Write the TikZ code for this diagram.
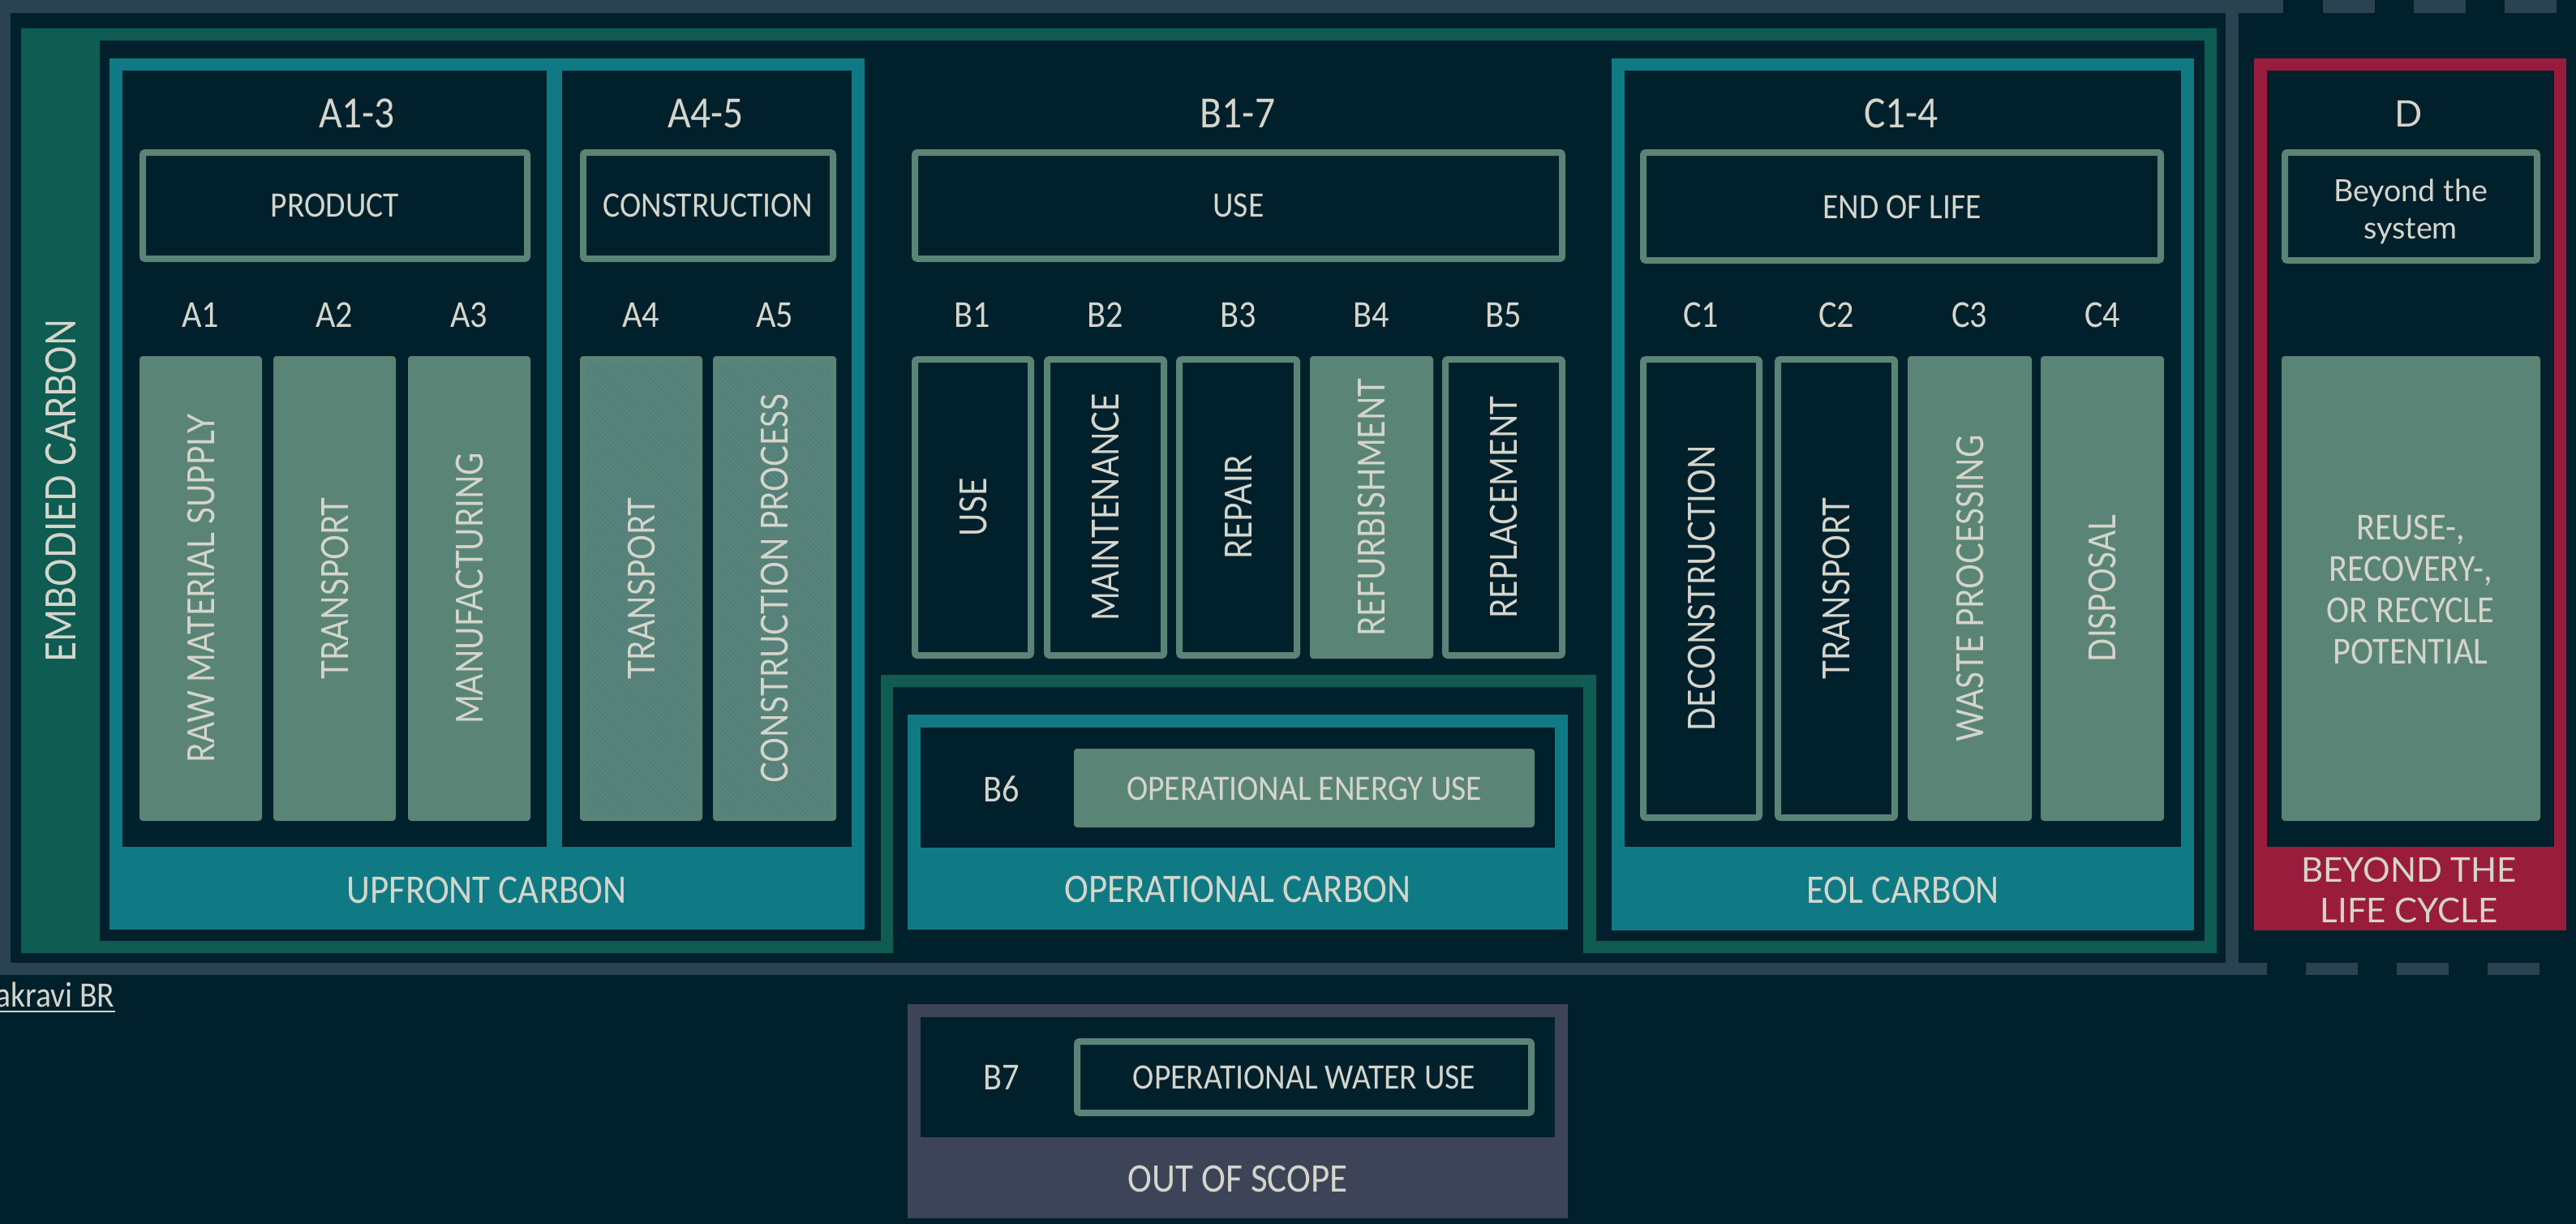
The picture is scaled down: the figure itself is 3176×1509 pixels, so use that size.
\documentclass[tikz,border=0pt]{standalone}
\usepackage{fontspec}
\setmainfont{Carlito}
\newfontfamily\condfont{Carlito}[FakeStretch=0.9]
\newfontfamily\widefont{Lato}
\newfontfamily\vertfont{Lato}[FakeStretch=0.84]
\usetikzlibrary{patterns.meta}

\definecolor{bg}{HTML}{00202C}
\definecolor{framegray}{HTML}{2B4350}
\definecolor{embgreen}{HTML}{0E5C52}
\definecolor{tealc}{HTML}{0F7A84}
\definecolor{sage}{HTML}{5A8576}
\definecolor{wine}{HTML}{9A1C3D}
\definecolor{slate}{HTML}{3D4457}
\definecolor{txt}{HTML}{D5D5CB}
\definecolor{hatchc}{HTML}{4E7C82}

\begin{document}
\begin{tikzpicture}[x=1pt,y=-1pt,
  base/.style={text=txt, inner sep=0pt, text depth=0pt},
  title/.style={base, font=\condfont\fontsize{55}{60}\selectfont, text height=35pt},
  code/.style={base, font=\condfont\fontsize{47}{52}\selectfont, text height=30pt},
  boxlbl/.style={base, font=\condfont\fontsize{44}{50}\selectfont, text height=28pt},
  banner/.style={base, font=\condfont\fontsize{50}{56}\selectfont, text height=32pt},
  vlbl/.style={base, font=\vertfont\fontsize{46}{52}\selectfont, text height=33pt, rotate=90},
  obox/.style={draw=sage, line width=8pt, rounded corners=3pt},
  fbox/.style={fill=sage, rounded corners=4pt},
  hatch/.style={pattern={Lines[angle=-45,distance=4pt,line width=1.6pt]}, pattern color=hatchc}
]
% canvas
\fill[bg] (0,0) rectangle (3176,1509);
\useasboundingbox (0,0) rectangle (3176,1509);

% system boundary (grey), dashed beyond it
\fill[framegray] (0,0) rectangle (2815,16);
\fill[framegray] (0,1187) rectangle (2795,1202);
\fill[framegray] (0,0) rectangle (13,1202);
\fill[framegray] (2744,0) rectangle (2760,1202);
\foreach \x in {2864,2976,3088} \fill[framegray] (\x,0) rectangle (\x+64,16);
\foreach \x in {2843,2955,3067} \fill[framegray] (\x,1187) rectangle (\x+64,1202);

% embodied carbon outline with the notch round operational carbon
\fill[embgreen, even odd rule]
  (26,35) -- (2733,35) -- (2733,1175) -- (1952,1175) -- (1952,847) -- (1101,847)
  -- (1101,1175) -- (26,1175) -- cycle
  (123,50) -- (2718,50) -- (2718,1160) -- (1968,1160) -- (1968,832) -- (1086,832)
  -- (1086,1160) -- (123,1160) -- cycle;
\node[base, font=\vertfont\fontsize{51.5}{56}\selectfont, text height=37pt, rotate=90]
  (emb) at (75,605) {EMBODIED CARBON};

% carbon groups
\fill[tealc] (135,72) rectangle (1066,1146);
\fill[bg] (151,87) rectangle (674,1044);
\fill[bg] (693,87) rectangle (1050,1044);
\node[banner] (upfront) at (600,1097) {UPFRONT CARBON};

\fill[tealc] (1119,881) rectangle (1933,1146);
\fill[bg] (1135,897) rectangle (1917,1045);
\node[banner] (opcarbon) at (1526,1096) {OPERATIONAL CARBON};

\fill[tealc] (1987,72) rectangle (2705,1147);
\fill[bg] (2003,87) rectangle (2689,1044);
\node[banner] (eol) at (2346,1097) {EOL CARBON};

\fill[wine] (2779,72) rectangle (3164,1147);
\fill[bg] (2795,87) rectangle (3149,1044);
\node[base, font=\widefont\fontsize{42}{50}\selectfont, align=center] (beyondlc) at (2970,1097)
  {BEYOND THE\\LIFE CYCLE};

\fill[slate] (1119,1238) rectangle (1933,1502);
\fill[bg] (1135,1254) rectangle (1917,1402);
\node[banner] (scope) at (1526,1453) {OUT OF SCOPE};

% stage titles
\node[title] (ta13) at (440,140) {A1-3};
\node[title] (ta45) at (870,140) {A4-5};
\node[title] (tb17) at (1526,140) {B1-7};
\node[title] (tc14) at (2344,140) {C1-4};
\node[base, font=\widefont\fontsize{45}{50}\selectfont, text height=32pt] (td) at (2970,140) {D};

% stage headers
\draw[obox] (176,188) rectangle (650,319);
\node[boxlbl] (hprod) at (413,253) {PRODUCT};
\draw[obox] (719,188) rectangle (1027,319);
\node[boxlbl] (hcons) at (873,253) {CONSTRUCTION};
\draw[obox] (1128,188) rectangle (1926,319);
\node[boxlbl] (huse) at (1527,253) {USE};
\draw[obox] (2026,188) rectangle (2664,321);
\node[boxlbl] (heol) at (2345,255) {END OF LIFE};
\draw[obox] (2817,188) rectangle (3128,321);
\node[base, font=\widefont\fontsize{37.7}{46}\selectfont, align=center] (hbeyond) at (2972,258)
  {Beyond the\\system};

% module codes
\node[code] (ca1) at (247,388) {A1};
\node[code] (ca2) at (412,388) {A2};
\node[code] (ca3) at (578,388) {A3};
\node[code] (ca4) at (790,388) {A4};
\node[code] (ca5) at (955,388) {A5};
\node[code] (cb1) at (1199,388) {B1};
\node[code] (cb2) at (1363,388) {B2};
\node[code] (cb3) at (1527,388) {B3};
\node[code] (cb4) at (1691,388) {B4};
\node[code] (cb5) at (1854,388) {B5};
\node[code] (cc1) at (2097,388) {C1};
\node[code] (cc2) at (2264,388) {C2};
\node[code] (cc3) at (2428,388) {C3};
\node[code] (cc4) at (2592,388) {C4};

% product stage
\fill[fbox] (172,439) rectangle (323,1012);
\node[vlbl] (ma1) at (247.5,725.5) {RAW MATERIAL SUPPLY};
\fill[fbox] (337,439) rectangle (488,1012);
\node[vlbl] (ma2) at (412.5,725.5) {TRANSPORT};
\fill[fbox] (503,439) rectangle (654,1012);
\node[vlbl] (ma3) at (578.5,725.5) {MANUFACTURING};

% construction stage (hatched)
\fill[fbox] (715,439) rectangle (866,1012);
\fill[hatch] (722,446) rectangle (859,1005);
\node[vlbl] (ma4) at (790.5,725.5) {TRANSPORT};
\fill[fbox] (879,439) rectangle (1031,1012);
\fill[hatch] (886,446) rectangle (1024,1005);
\node[vlbl] (ma5) at (955,725.5) {CONSTRUCTION PROCESS};

% use stage
\draw[obox] (1128,443) rectangle (1271,808);
\node[vlbl] (mb1) at (1199.5,625.5) {USE};
\draw[obox] (1291,443) rectangle (1435,808);
\node[vlbl] (mb2) at (1363,625.5) {MAINTENANCE};
\draw[obox] (1454,443) rectangle (1599,808);
\node[vlbl] (mb3) at (1526.5,625.5) {REPAIR};
\fill[fbox] (1615,439) rectangle (1767,812);
\node[vlbl] (mb4) at (1691,625.5) {REFURBISHMENT};
\draw[obox] (1782,443) rectangle (1926,808);
\node[vlbl] (mb5) at (1854,625.5) {REPLACEMENT};

% operational modules
\node[code] (cb6) at (1235,973) {B6};
\fill[fbox] (1324,923) rectangle (1892,1020);
\node[boxlbl] (mb6) at (1608,972) {OPERATIONAL ENERGY USE};
\node[code] (cb7) at (1235,1328) {B7};
\draw[obox] (1328,1284) rectangle (1888,1372);
\node[boxlbl] (mb7) at (1608,1328) {OPERATIONAL WATER USE};

% end of life stage
\draw[obox] (2026,443) rectangle (2169,1008);
\node[vlbl] (mc1) at (2097.5,725.5) {DECONSTRUCTION};
\draw[obox] (2192,443) rectangle (2336,1008);
\node[vlbl] (mc2) at (2264,725.5) {TRANSPORT};
\fill[fbox] (2352,439) rectangle (2505,1012);
\node[vlbl] (mc3) at (2428.5,725.5) {WASTE PROCESSING};
\fill[fbox] (2516,439) rectangle (2668,1012);
\node[vlbl] (mc4) at (2592,725.5) {DISPOSAL};

% beyond the system
\fill[fbox] (2813,439) rectangle (3132,1012);
\node[base, font=\condfont\fontsize{47}{51}\selectfont, align=center] (md) at (2972,727)
  {REUSE-,\\RECOVERY-,\\OR RECYCLE\\POTENTIAL};

% source link
\node[base, font=\condfont\fontsize{44}{50}\selectfont, anchor=base west] (credit) at (-6,1241) {akravi BR};
\draw[txt, line width=2pt] (0,1247) -- (credit.base east |- 0,1247);
\end{tikzpicture}
\end{document}
